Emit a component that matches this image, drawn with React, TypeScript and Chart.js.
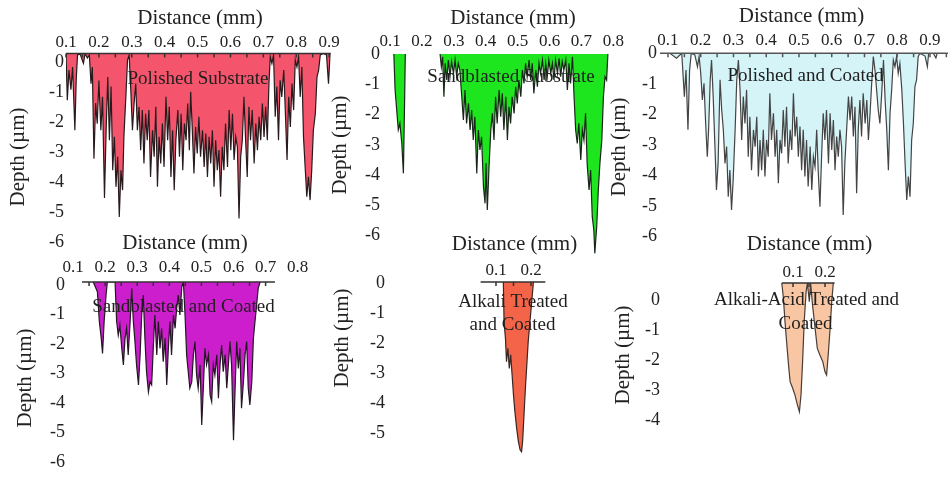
import React, { useEffect, useRef } from 'react';
import { Chart, registerables } from 'chart.js';

Chart.register(...registerables);

const FONT = '"Liberation Serif", "Times New Roman", serif';
Chart.defaults.font.family = FONT;
Chart.defaults.color = '#222';

type Pt = [number, number | null];

// ---- Profiles: [distance (mm), depth (µm)] ----
const polishedSubstrate: Pt[] = [
  [0.100, 0], [0.104, -1.55], [0.109, -0.55], [0.115, -1.2], [0.120, -0.45], [0.127, -2.55], [0.131, -0.9], [0.135, -0.05],
  [0.143, -0.02], [0.153, -0.33], [0.158, 0], [0.165, -0.15], [0.171, -0.05], [0.176, -1.0], [0.180, -0.45], [0.185, -3.5],
  [0.190, -1.65], [0.195, -2.33], [0.200, -0.9], [0.206, -2.55], [0.211, -1.44], [0.217, -4.8], [0.222, -2.55], [0.227, -0.78],
  [0.232, -2.88], [0.237, -1.1], [0.242, -3.88], [0.247, -2.77], [0.252, -4.43], [0.257, -3.43], [0.262, -5.43], [0.267, -3.88],
  [0.272, -4.54], [0.276, -2.77], [0.282, -1.44], [0.287, -0.22], [0.292, -0.05], [0.297, -1.22], [0.302, -2.55], [0.307, -1.66],
  [0.312, -1.0], [0.317, -2.55], [0.322, -1.77], [0.327, -3.21], [0.332, -1.88], [0.337, -3.65], [0.342, -2.0], [0.347, -2.88],
  [0.352, -1.88], [0.357, -4.1], [0.363, -2.55], [0.368, -3.43], [0.373, -1.77], [0.378, -4.43], [0.383, -2.77], [0.388, -3.65],
  [0.393, -2.33], [0.398, -3.77], [0.404, -1.44], [0.409, -2.88], [0.414, -1.77], [0.419, -4.1], [0.424, -2.55], [0.429, -4.54],
  [0.434, -2.88], [0.440, -1.88], [0.445, -3.43], [0.450, -2.0], [0.455, -3.88], [0.460, -2.33], [0.465, -2.88], [0.470, -1.66],
  [0.475, -3.21], [0.479, -1.27], [0.484, -2.55], [0.489, -3.99], [0.494, -2.44], [0.499, -3.32], [0.504, -2.1], [0.509, -3.43],
  [0.515, -2.55], [0.520, -3.77], [0.525, -2.66], [0.530, -4.1], [0.535, -2.77], [0.540, -3.65], [0.545, -2.55], [0.550, -4.43],
  [0.555, -2.88], [0.560, -3.88], [0.565, -3.21], [0.570, -4.76], [0.575, -3.1], [0.580, -3.88], [0.585, -2.33], [0.591, -3.77],
  [0.596, -1.88], [0.601, -3.21], [0.606, -2.0], [0.611, -3.54], [0.616, -2.77], [0.621, -3.1], [0.626, -5.48], [0.631, -3.43],
  [0.636, -2.88], [0.641, -1.44], [0.646, -2.88], [0.651, -4.1], [0.656, -1.77], [0.661, -2.88], [0.666, -1.88], [0.672, -3.65],
  [0.677, -2.33], [0.682, -3.21], [0.687, -2.1], [0.692, -2.88], [0.697, -1.66], [0.702, -2.77], [0.707, -1.77], [0.712, -2.88],
  [0.717, -1.0], [0.721, -0.11], [0.726, -0.33], [0.731, -0.05], [0.736, -2.1], [0.741, -1.1], [0.746, -2.88], [0.751, -0.89],
  [0.756, -1.44], [0.762, -0.55], [0.767, -2.0], [0.772, -3.54], [0.777, -1.44], [0.782, -2.44], [0.787, -1.0], [0.792, -1.88],
  [0.797, -0.22], [0.802, -0.45], [0.807, -0.11], [0.812, -1.44], [0.817, -0.45], [0.822, -2.77], [0.827, -3.77], [0.832, -4.76],
  [0.837, -4.1], [0.842, -4.87], [0.847, -3.88], [0.852, -2.55], [0.858, -2.0], [0.863, -0.78], [0.868, -0.55], [0.873, -0.05],
  [0.882, 0], [0.892, -0.05], [0.898, -1.0], [0.903, 0],
];

const sandblastedSubstrate: Pt[] = [
  [0.112, 0], [0.116, -1.19], [0.121, -1.85], [0.126, -2.5], [0.131, -2.29], [0.137, -2.95], [0.142, -3.94], [0.146, -1.4], [0.148, 0],
  [0.2, null],
  [0.257, 0], [0.261, -0.42], [0.265, -0.09], [0.269, -1.41], [0.273, -0.31], [0.278, -0.86], [0.283, -0.2], [0.288, -0.75],
  [0.293, -0.25], [0.299, -0.64], [0.304, -0.2], [0.309, -0.75], [0.314, -0.31], [0.319, -0.53], [0.325, -1.41], [0.330, -2.18],
  [0.335, -1.19], [0.340, -2.29], [0.346, -1.63], [0.351, -2.51], [0.356, -1.85], [0.361, -2.84], [0.366, -2.07], [0.372, -3.94],
  [0.377, -2.51], [0.382, -3.17], [0.387, -2.73], [0.393, -4.38], [0.398, -4.93], [0.401, -3.61], [0.405, -5.15], [0.410, -3.83],
  [0.416, -2.51], [0.421, -1.96], [0.426, -2.84], [0.431, -1.41], [0.436, -2.29], [0.442, -1.19], [0.447, -2.07], [0.452, -1.3],
  [0.457, -2.51], [0.463, -1.41], [0.468, -2.84], [0.473, -1.74], [0.478, -2.29], [0.483, -1.41], [0.489, -1.96], [0.494, -1.08],
  [0.499, -1.63], [0.504, -0.86], [0.510, -1.41], [0.515, -0.53], [0.520, -0.97], [0.525, -0.31], [0.530, -0.75], [0.536, -0.2],
  [0.541, -0.86], [0.546, -0.31], [0.551, -1.3], [0.557, -0.53], [0.562, -1.08], [0.567, -0.31], [0.572, -0.64], [0.578, -0.2],
  [0.583, -0.86], [0.588, -0.31], [0.593, -0.75], [0.598, -0.2], [0.604, -0.64], [0.609, -0.31], [0.614, -0.86], [0.619, -0.2],
  [0.625, -0.64], [0.630, -0.14], [0.635, -0.75], [0.640, -0.25], [0.645, -0.53], [0.651, -0.2], [0.656, -1.19], [0.661, -0.31],
  [0.666, -0.97], [0.672, -0.09], [0.677, -1.41], [0.682, -2.51], [0.687, -2.95], [0.692, -2.29], [0.698, -3.5], [0.703, -2.51],
  [0.708, -2.84], [0.713, -1.96], [0.718, -3.61], [0.724, -4.49], [0.729, -3.83], [0.734, -5.37], [0.739, -5.81], [0.742, -6.58],
  [0.748, -5.7], [0.753, -4.49], [0.758, -3.61], [0.764, -2.84], [0.769, -1.41], [0.774, -0.75], [0.779, -0.86], [0.783, 0],
];

const polishedCoated: Pt[] = [
  [0.106, 0], [0.126, -0.16], [0.142, 0], [0.150, -1.42], [0.155, -0.55], [0.161, -2.51], [0.166, -0.55], [0.171, 0],
  [0.182, -0.05], [0.190, -0.44], [0.195, -0.1], [0.200, -0.66], [0.205, -1.53], [0.210, -0.98], [0.215, -2.3], [0.220, -3.39],
  [0.224, -2.51], [0.229, -0.87], [0.233, -0.22], [0.238, -1.42], [0.243, -2.95], [0.248, -4.48], [0.253, -3.61], [0.259, -0.87],
  [0.264, -1.86], [0.269, -2.51], [0.274, -3.61], [0.279, -3.06], [0.284, -4.7], [0.289, -3.83], [0.294, -5.14], [0.299, -4.15],
  [0.305, -2.51], [0.310, -0.87], [0.315, -0.22], [0.320, -1.2], [0.325, -2.84], [0.330, -1.42], [0.335, -2.3], [0.340, -1.2],
  [0.345, -3.39], [0.350, -2.08], [0.355, -3.83], [0.361, -2.51], [0.366, -3.06], [0.371, -2.08], [0.376, -4.04], [0.381, -2.84],
  [0.386, -3.83], [0.391, -2.51], [0.396, -4.04], [0.401, -2.84], [0.406, -3.39], [0.411, -1.31], [0.416, -2.84], [0.422, -1.97],
  [0.427, -3.39], [0.432, -2.51], [0.437, -4.26], [0.442, -2.84], [0.447, -3.28], [0.452, -1.86], [0.457, -3.06], [0.462, -1.75],
  [0.467, -3.61], [0.473, -2.51], [0.478, -3.17], [0.483, -1.31], [0.488, -2.73], [0.493, -2.08], [0.498, -3.39], [0.503, -2.4],
  [0.508, -3.83], [0.513, -2.51], [0.518, -4.04], [0.523, -2.84], [0.528, -4.37], [0.534, -3.06], [0.539, -4.48], [0.544, -3.39],
  [0.549, -3.72], [0.554, -2.51], [0.559, -3.93], [0.564, -5.03], [0.569, -3.39], [0.574, -1.97], [0.579, -2.84], [0.584, -1.86],
  [0.590, -3.61], [0.595, -1.97], [0.600, -3.17], [0.605, -2.19], [0.610, -3.83], [0.615, -2.73], [0.620, -3.39], [0.625, -2.51],
  [0.630, -3.06], [0.635, -5.3], [0.640, -3.61], [0.646, -2.4], [0.651, -1.42], [0.656, -2.19], [0.661, -1.42], [0.666, -2.73],
  [0.671, -1.75], [0.676, -4.59], [0.681, -2.51], [0.686, -1.53], [0.691, -2.73], [0.696, -1.31], [0.702, -2.3], [0.707, -1.53],
  [0.712, -2.84], [0.717, -1.97], [0.722, -0.98], [0.727, -0.11], [0.732, -0.55], [0.737, -1.2], [0.742, -1.86], [0.747, -2.3],
  [0.752, -1.42], [0.758, -0.22], [0.763, -1.53], [0.768, -2.51], [0.773, -3.83], [0.778, -1.97], [0.783, -1.2], [0.788, -0.22],
  [0.793, -0.44], [0.798, -0.11], [0.803, -0.66], [0.808, -0.33], [0.814, -1.2], [0.819, -2.3], [0.824, -3.61], [0.829, -4.81],
  [0.834, -4.04], [0.839, -4.7], [0.844, -2.84], [0.849, -2.3], [0.854, -1.09], [0.859, -0.87], [0.864, -0.11], [0.869, 0],
  [0.885, -0.09], [0.892, -0.44], [0.896, 0], [0.910, 0], [0.918, -0.15], [0.922, 0],
];

const sandblastedCoated: Pt[] = [
  [0.163, 0], [0.176, -0.33], [0.182, -1.34], [0.188, -1.91], [0.192, -2.42], [0.197, -1.34], [0.203, -0.44], [0.207, 0],
  [0.231, 0], [0.236, -1.34], [0.241, -1.8], [0.246, -1.46], [0.252, -2.25], [0.257, -2.81], [0.262, -1.91], [0.267, -1.57],
  [0.272, -2.47], [0.278, -1.34], [0.283, -0.21], [0.288, -1.34], [0.293, -2.02], [0.298, -2.81], [0.304, -3.49], [0.309, -2.47],
  [0.314, -1.12], [0.319, -0.44], [0.324, -1.91], [0.329, -3.04], [0.335, -3.73], [0.340, -3.38], [0.345, -3.49], [0.350, -2.25],
  [0.355, -1.12], [0.361, -2.47], [0.366, -1.34], [0.371, -2.25], [0.376, -1.57], [0.381, -2.7], [0.387, -1.91], [0.392, -3.49],
  [0.397, -2.25], [0.402, -1.34], [0.407, -2.47], [0.413, -1.12], [0.418, -1.57], [0.423, -0.89], [0.428, -0.44], [0.433, -1.12],
  [0.439, -0.16], [0.444, 0], [0.449, -1.12], [0.454, -2.47], [0.459, -3.04], [0.464, -3.6], [0.470, -3.38], [0.475, -2.47],
  [0.480, -2.02], [0.485, -3.15], [0.490, -3.6], [0.496, -2.81], [0.501, -4.85], [0.506, -3.6], [0.511, -2.25], [0.516, -2.81],
  [0.522, -2.47], [0.527, -3.83], [0.532, -4.06], [0.537, -2.81], [0.542, -3.15], [0.548, -2.47], [0.553, -3.94], [0.558, -2.81],
  [0.563, -2.14], [0.568, -3.04], [0.574, -2.47], [0.579, -3.6], [0.584, -2.81], [0.589, -2.02], [0.594, -2.81], [0.600, -5.36],
  [0.605, -3.6], [0.610, -2.02], [0.615, -2.93], [0.620, -2.25], [0.625, -4.28], [0.631, -3.38], [0.636, -2.47], [0.641, -2.02],
  [0.646, -3.6], [0.651, -4.17], [0.657, -3.38], [0.662, -1.91], [0.667, -1.34], [0.672, -0.78], [0.677, -0.21], [0.683, 0],
];

const alkaliCoated: Pt[] = [
  [0.121, 0], [0.123, -1.32], [0.127, -1.88], [0.130, -2.66], [0.134, -2.21], [0.138, -2.88], [0.142, -2.43], [0.146, -3.1],
  [0.150, -3.77], [0.154, -4.32], [0.159, -4.88], [0.164, -5.32], [0.169, -5.6], [0.173, -5.66], [0.176, -5.32], [0.180, -4.43],
  [0.184, -3.54], [0.188, -2.77], [0.192, -1.99], [0.197, -1.32], [0.202, -0.66], [0.207, 0],
];

const alkaliAcidCoated: Pt[] = [
  [0.065, 0], [0.070, -0.51], [0.075, -1.29], [0.080, -1.96], [0.086, -2.73], [0.091, -3.29], [0.099, -3.51], [0.106, -3.73],
  [0.114, -4.07], [0.120, -4.29], [0.125, -3.73], [0.130, -2.62], [0.135, -1.29], [0.141, -0.29], [0.145, 0], [0.151, -0.62],
  [0.155, 0], [0.161, -0.73], [0.169, -1.51], [0.176, -2.18], [0.184, -2.4], [0.193, -2.62], [0.200, -2.96], [0.205, -3.07],
  [0.210, -2.4], [0.216, -1.51], [0.221, -0.62], [0.226, 0],
];

// ---- Tick labels ----
const ticksTo09 = [0.1, 0.2, 0.3, 0.4, 0.5, 0.6, 0.7, 0.8, 0.9];
const ticksTo08 = [0.1, 0.2, 0.3, 0.4, 0.5, 0.6, 0.7, 0.8];
const ticksShort = [0.1, 0.2];
const depthTo6 = [0, -1, -2, -3, -4, -5, -6];
const depthTo5 = [0, -1, -2, -3, -4, -5];
const depthTo4 = [0, -1, -2, -3, -4];

type Note = { text: string; x: number; y: number };
type Panel = {
  profile: Pt[];
  fill: string;
  line: string;
  area: { l: number; t: number; r: number; b: number };
  xMin: number; xMax: number; yMin: number;
  xTicks: number[]; yTicks: number[];
  title: { x: number; y: number };
  xTickPad: number; yTickPad: number; yLabelOffset: number;
  axisLine: [number, number] | null; axisColor: string;
  yTitle: { x: number; y: number };
  notes: Note[];
};

const panels: Panel[] = [
  {
    profile: polishedSubstrate, fill: '#f4546c', line: '#261a1d',
    area: { l: 66, t: 53.5, r: 330.8, b: 234.1 }, xMin: 0.1, xMax: 0.905, yMin: -6,
    xTicks: ticksTo09, yTicks: depthTo6, title: { x: 200, y: 18 }, xTickPad: 0.5, yTickPad: 2, yLabelOffset: 8.5,
    axisLine: [0.1, 0.905], axisColor: '#333', yTitle: { x: 18.5, y: 157 },
    notes: [{ text: 'Polished Substrate', x: 198, y: 79.5 }],
  },
  {
    profile: sandblastedSubstrate, fill: '#1ee61e', line: '#1a261a',
    area: { l: 390, t: 54, r: 613.3, b: 260 }, xMin: 0.1, xMax: 0.8, yMin: -6.8,
    xTicks: ticksTo08, yTicks: depthTo6, title: { x: 513, y: 18 }, xTickPad: 1.8, yTickPad: 10, yLabelOffset: 0,
    axisLine: null, axisColor: '#333', yTitle: { x: 340, y: 145 },
    notes: [{ text: 'Sandblasted Substrate', x: 511, y: 77.5 }],
  },
  {
    profile: polishedCoated, fill: '#d4f4f8', line: '#444444',
    area: { l: 660, t: 53.3, r: 948, b: 236.3 }, xMin: 0.0756, xMax: 0.955, yMin: -6,
    xTicks: ticksTo09, yTicks: depthTo6, title: { x: 801.5, y: 16.7 }, xTickPad: 2.1, yTickPad: 3, yLabelOffset: 0,
    axisLine: [0.0756, 0.955], axisColor: '#555', yTitle: { x: 619, y: 147 },
    notes: [{ text: 'Polished and Coated', x: 805.5, y: 76 }],
  },
  {
    profile: sandblastedCoated, fill: '#cc1ecc', line: '#241624',
    area: { l: 73, t: 282, r: 297.7, b: 459 }, xMin: 0.1, xMax: 0.8, yMin: -6,
    xTicks: ticksTo08, yTicks: depthTo6, title: { x: 185, y: 243 }, xTickPad: 4.5, yTickPad: 8, yLabelOffset: 3,
    axisLine: [0.128, 0.729], axisColor: '#333', yTitle: { x: 25.5, y: 378 },
    notes: [{ text: 'Sandblasted and Coated', x: 183.5, y: 307 }],
  },
  {
    profile: alkaliCoated, fill: '#f46449', line: '#3a2622',
    area: { l: 478.5, t: 282, r: 548.5, b: 456 }, xMin: 0.05, xMax: 0.25, yMin: -5.8,
    xTicks: ticksShort, yTicks: depthTo5, title: { x: 514.5, y: 244.5 }, xTickPad: 0.8, yTickPad: 93.5, yLabelOffset: 1,
    axisLine: [0.056, 0.241], axisColor: '#333', yTitle: { x: 342, y: 338 },
    notes: [
      { text: 'Alkali Treated', x: 513, y: 302.5 },
      { text: 'and Coated', x: 512.5, y: 325.5 },
    ],
  },
  {
    profile: alkaliAcidCoated, fill: '#f8c6a2', line: '#4a3c36',
    area: { l: 777, t: 283, r: 841, b: 418 }, xMin: 0.05, xMax: 0.25, yMin: -4.5,
    xTicks: ticksShort, yTicks: depthTo4, title: { x: 809.5, y: 244 }, xTickPad: 0.3, yTickPad: 117, yLabelOffset: 17,
    axisLine: [0.065, 0.23], axisColor: '#333', yTitle: { x: 623, y: 355 },
    notes: [
      { text: 'Alkali-Acid Treated and', x: 806.5, y: 300.5 },
      { text: 'Coated', x: 805.5, y: 324.5 },
    ],
  },
];

const PAGE_W = 949;
const PAGE_H = 479;
const X_AXIS_H = 60;

function makeDecor(p: Panel) {
  return {
    id: 'panelDecor',
    afterDatasetsDraw(chart: any) {
      const ctx = chart.ctx as CanvasRenderingContext2D;
      const xs = chart.scales.x;
      const ys = chart.scales.y;
      ctx.save();
      if (p.axisLine) {
        const [a, b] = p.axisLine;
        const y0 = ys.getPixelForValue(0);
        ctx.strokeStyle = p.axisColor;
        ctx.lineWidth = 1.5;
        ctx.beginPath();
        ctx.moveTo(xs.getPixelForValue(a), y0);
        ctx.lineTo(xs.getPixelForValue(b), y0);
        for (let k = Math.ceil(a / 0.05 - 1e-9); k * 0.05 <= b + 1e-9; k++) {
          const px = xs.getPixelForValue(k * 0.05);
          ctx.moveTo(px, y0);
          ctx.lineTo(px, y0 + 4);
        }
        ctx.stroke();
      }
      ctx.fillStyle = '#1e1e1e';
      ctx.textAlign = 'center';
      ctx.textBaseline = 'middle';
      ctx.font = `19px ${FONT}`;
      p.notes.forEach((n) => ctx.fillText(n.text, n.x, n.y));
      ctx.font = `21px ${FONT}`;
      ctx.fillStyle = '#222';
      ctx.fillText('Distance (mm)', p.title.x, p.title.y);
      ctx.translate(p.yTitle.x, p.yTitle.y);
      ctx.rotate(-Math.PI / 2);
      ctx.fillText('Depth (µm)', 0, 0);
      ctx.restore();
    },
  };
}

function makeConfig(p: Panel): any {
  const yW = p.yTickPad + 30;
  const top = p.area.t - X_AXIS_H;
  return {
    type: 'line',
    data: {
      datasets: [
        {
          data: p.profile.map(([x, y]) => ({ x, y })),
          borderColor: p.line,
          backgroundColor: p.fill,
          borderWidth: 1.2,
          pointRadius: 0,
          tension: 0,
          fill: 'origin',
          spanGaps: false,
        },
      ],
    },
    options: {
      responsive: false,
      animation: false,
      devicePixelRatio: 1,
      events: [],
      layout: {
        padding: {
          left: p.area.l - yW,
          top,
          right: PAGE_W - p.area.r,
          bottom: PAGE_H - p.area.b,
        },
      },
      plugins: { legend: { display: false }, tooltip: { enabled: false } },
      scales: {
        x: {
          type: 'linear',
          position: 'top',
          min: p.xMin,
          max: p.xMax,
          afterBuildTicks: (s: any) => {
            s.ticks = p.xTicks.map((v) => ({ value: v }));
          },
          afterFit: (s: any) => {
            s.height = X_AXIS_H;
            s.paddingLeft = 0;
            s.paddingRight = 0;
          },
          grid: { display: false, drawTicks: false },
          border: { display: false },
          ticks: {
            autoSkip: false,
            maxRotation: 0,
            padding: p.xTickPad,
            color: '#222',
            font: { family: FONT, size: 17 },
            callback: (v: any) => Number(v).toFixed(1),
          },
          title: { display: false },
        },
        y: {
          type: 'linear',
          position: 'left',
          min: p.yMin,
          max: 0,
          afterBuildTicks: (s: any) => {
            s.ticks = p.yTicks.map((v) => ({ value: v }));
          },
          afterFit: (s: any) => {
            s.width = yW;
            s.paddingTop = 0;
            s.paddingBottom = 0;
          },
          grid: { display: false, drawTicks: false },
          border: { display: false },
          ticks: {
            autoSkip: false,
            padding: p.yTickPad,
            labelOffset: p.yLabelOffset,
            color: '#222',
            font: { family: FONT, size: 18 },
            callback: (v: any) => String(Number(v)),
          },
          title: { display: false },
        },
      },
    },
    plugins: [makeDecor(p)],
  };
}

function PanelChart({ panel }: { panel: Panel }) {
  const ref = useRef<HTMLCanvasElement>(null);
  useEffect(() => {
    if (!ref.current) return;
    const chart = new Chart(ref.current, makeConfig(panel));
    return () => chart.destroy();
  }, [panel]);
  return (
    <canvas
      ref={ref}
      width={PAGE_W}
      height={PAGE_H}
      style={{ position: 'absolute', left: 0, top: 0, width: PAGE_W, height: PAGE_H }}
    />
  );
}

export default function App() {
  return (
    <div
      style={{
        position: 'absolute',
        left: 0,
        top: 0,
        width: PAGE_W,
        height: PAGE_H,
        background: '#fff',
        overflow: 'hidden',
      }}
    >
      {panels.map((p, i) => (
        <PanelChart key={i} panel={p} />
      ))}
    </div>
  );
}
